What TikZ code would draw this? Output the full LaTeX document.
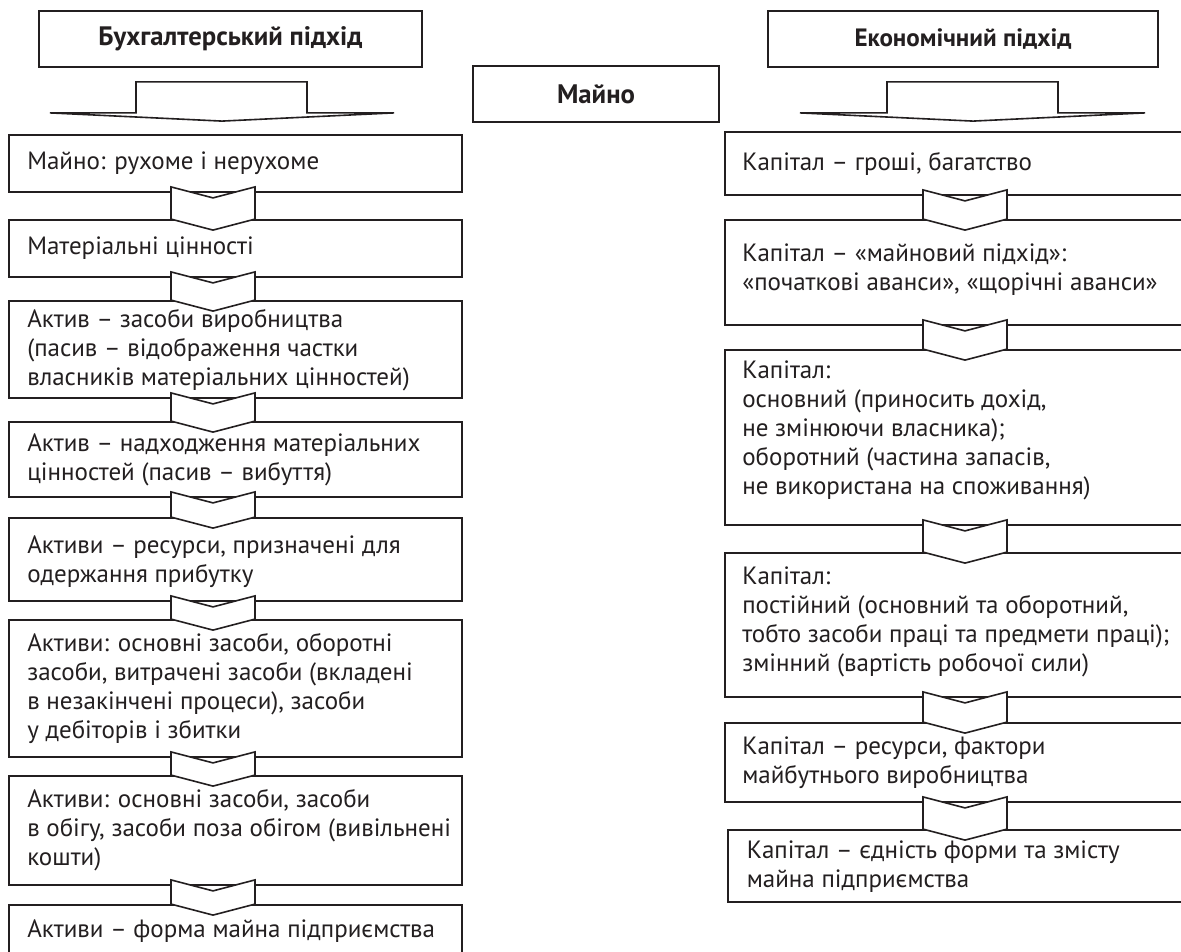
\documentclass[tikz,border=0pt]{standalone}
\usepackage{fontspec}
\usepackage{graphicx}
\setmainfont{PT Sans}
\usetikzlibrary{calc}
\definecolor{ink}{HTML}{231F20}
\newcommand\mychev[4]{% #1 upper node, #2 lower node, #3 left x, #4 right x
  \draw[arr] let \p1=(#1.south), \p2=(#2.north) in
    (#3pt,\y1+6pt) -- ({(#3+#4)/2*1pt},\y1-5pt) -- (#4pt,\y1+6pt) -- (#4pt,\y2)
    -- ({(#3+#4)/2*1pt},\y2-11pt) -- (#3pt,\y2) -- cycle;}
\newcommand\hdtext[2]{\resizebox{#1pt}{!}{\bfseries #2}}
\begin{document}
\begin{tikzpicture}[x=1pt,y=-1pt,
  box/.style={draw=ink, line width=1.8pt, fill=white, inner sep=0pt, rectangle},
  headbox/.style={box, text=ink, minimum height=56pt},
  body/.style={inner sep=0pt, align=left, anchor=west, text=ink,
    font={\fontsize{25}{29}\selectfont}},
  arr/.style={draw=ink, line width=1.6pt, fill=white, line join=miter}]
\clip (0,0) rectangle (1181,952);
\fill[white] (0,0) rectangle (1181,952);

% headers
\node[headbox, minimum width=383pt] (hdrL) at (230.5,39) {\hdtext{264}{Бухгалтерський підхід}};
\node[headbox, minimum width=246pt] (mayno) at (596,94) {\hdtext{78}{Майно}};
\node[headbox, minimum width=390pt] (hdrR) at (963,39) {\hdtext{217}{Економічний підхід}};

% left boxes
\tikzset{lb/.style={box, minimum width=453pt}}
\node[lb, minimum height=57pt]  (b1) at (235.5,163.5) {};
\node[lb, minimum height=57pt]  (b2) at (235.5,248.5) {};
\node[lb, minimum height=97pt]  (b3) at (235.5,349.5) {};
\node[lb, minimum height=75pt]  (b4) at (235.5,459.5) {};
\node[lb, minimum height=83pt]  (b5) at (235.5,559.5) {};
\node[lb, minimum height=137pt] (b6) at (235.5,688.5) {};
\node[lb, minimum height=109pt] (b7) at (235.5,830.5) {};
\node[lb, minimum height=52pt]  (b8) at (235.5,931) {};

% right boxes
\tikzset{rb/.style={box, minimum width=470pt}}
\node[rb, minimum height=63pt]  (r1) at (960,163.5) {};
\node[rb, minimum height=105pt] (r2) at (960,272.5) {};
\node[rb, minimum height=175pt] (r3) at (960,437.5) {};
\node[rb, minimum height=144pt] (r4) at (960,625) {};
\node[rb, minimum height=79pt]  (r5) at (960,762.5) {};
\node[rb, minimum width=467pt, minimum height=72pt] (r6) at (961.5,866) {};

% big arrows from headers
\draw[arr] let \p1=(hdrL.south), \p2=(b1.north) in
  (136pt,\y1-14pt) -- (307pt,\y1-14pt) -- (307pt,\y1-45pt) -- (394pt,\y1-45pt)
  -- (222pt,\y2+13pt) -- (50pt,\y1-45pt) -- (136pt,\y1-45pt) -- cycle;
\draw[arr] let \p1=(hdrR.south), \p2=(r1.north) in
  (887pt,\y1-14pt) -- (1058pt,\y1-14pt) -- (1058pt,\y1-45pt) -- (1145pt,\y1-45pt)
  -- (973pt,\y2+10pt) -- (800pt,\y1-45pt) -- (887pt,\y1-45pt) -- cycle;

% chevrons
\mychev{b1}{b2}{171}{255}
\mychev{b2}{b3}{171}{255}
\mychev{b3}{b4}{171}{255}
\mychev{b4}{b5}{171}{255}
\mychev{b5}{b6}{171}{255}
\mychev{b6}{b7}{171}{255}
\mychev{b7}{b8}{171}{255}
\mychev{r1}{r2}{923}{1007}
\mychev{r2}{r3}{923}{1007}
\mychev{r3}{r4}{923}{1007}
\mychev{r4}{r5}{923}{1007}
\mychev{r5}{r6}{923}{1007}

% texts left
\node[body] (t1) at ([xshift=19pt]b1.west) {Майно: рухоме і нерухоме};
\node[body] (t2) at ([xshift=19pt]b2.west) {Матеріальні цінності};
\node[body] (t3) at ([xshift=19pt,yshift=-1pt]b3.west) {Актив – засоби виробництва\\(пасив – відображення частки\\власників матеріальних цінностей)};
\node[body] (t4) at ([xshift=19pt]b4.west) {Актив – надходження матеріальних\\цінностей (пасив – вибуття)};
\node[body] (t5) at ([xshift=19pt,yshift=-2pt]b5.west) {Активи – ресурси, призначені для\\одержання прибутку};
\node[body] (t6) at ([xshift=19pt]b6.west) {Активи: основні засоби, оборотні\\засоби, витрачені засоби (вкладені\\в незакінчені процеси), засоби\\у дебіторів і збитки};
\node[body] (t7) at ([xshift=19pt]b7.west) {Активи: основні засоби, засоби\\в обігу, засоби поза обігом (вивільнені\\кошти)};
\node[body] (t8) at ([xshift=19pt]b8.west) {Активи – форма майна підприємства};

% texts right
\node[body] (s1) at ([xshift=18pt]r1.west) {Капітал – гроші, багатство};
\node[body] (s2) at ([xshift=18pt,yshift=2.5pt]r2.west) {Капітал – «майновий підхід»:\\«початкові аванси», «щорічні аванси»};
\node[body] (s3) at ([xshift=18pt,yshift=7.5pt]r3.west) {Капітал:\\основний (приносить дохід,\\не змінюючи власника);\\оборотний (частина запасів,\\не використана на споживання)};
\node[body] (s4) at ([xshift=18pt,yshift=3.5pt]r4.west) {Капітал:\\постійний (основний та оборотний,\\тобто засоби праці та предмети праці);\\змінний (вартість робочої сили)};
\node[body] (s5) at ([xshift=18pt]r5.west) {Капітал – ресурси, фактори\\майбутнього виробництва};
\node[body] (s6) at ([xshift=19.5pt,yshift=-1pt]r6.west) {Капітал – єдність форми та змісту\\майна підприємства};
\end{tikzpicture}
\end{document}
